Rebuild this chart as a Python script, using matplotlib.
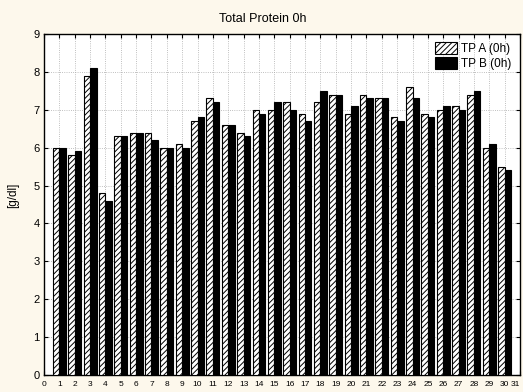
import matplotlib
matplotlib.use("Agg")
import matplotlib.pyplot as plt
import numpy as np

plt.rcParams['font.family'] = ['Liberation Sans', 'DejaVu Sans']
plt.rcParams['hatch.linewidth'] = 0.7

title = "Total Protein 0h"
ylabel = "[g/dl]"
series_names = ["TP A (0h)", "TP B (0h)"]
cases = list(range(1, 31))
tp_a = [6.0, 5.8, 7.9, 4.8, 6.3, 6.4, 6.4, 6.0, 6.1, 6.7,
        7.3, 6.6, 6.4, 7.0, 7.0, 7.2, 6.9, 7.2, 7.4, 6.9,
        7.4, 7.3, 6.8, 7.6, 6.9, 7.0, 7.1, 7.4, 6.0, 5.5]
tp_b = [6.0, 5.9, 8.1, 4.6, 6.3, 6.4, 6.2, 6.0, 6.0, 6.8,
        7.2, 6.6, 6.3, 6.9, 7.2, 7.0, 6.7, 7.5, 7.4, 7.1,
        7.3, 7.3, 6.7, 7.3, 6.8, 7.1, 7.0, 7.5, 6.1, 5.4]
xticks = list(range(0, 32))
yticks = list(range(0, 10))

fig = plt.figure(figsize=(5.23, 3.92), dpi=100)
fig.patch.set_facecolor('#FDF8EC')
ax = fig.add_axes([44/523, 1-375/392, (520-44)/523, (375-34)/392])
ax.set_facecolor('white')

x = np.array(cases)
w = 0.42
ax.bar(x - w/2, tp_a, width=w, color='white', edgecolor='black', hatch='//////',
       linewidth=0.8, label=series_names[0], zorder=3)
ax.bar(x + w/2, tp_b, width=w, color='black', edgecolor='black',
       linewidth=0.8, label=series_names[1], zorder=3)

ax.set_xlim(0, 31)
ax.set_ylim(0, 9)
ax.set_xticks(xticks)
ax.set_yticks(yticks)
ax.tick_params(axis='x', labelsize=6, direction='in', top=True, length=3, pad=4)
ax.tick_params(axis='y', labelsize=8, direction='in', right=True, length=3, pad=3)
ax.get_xticklabels()[-1].set_horizontalalignment('right')
ax.grid(True, color='#AAAAAA', linestyle=':', linewidth=0.6, zorder=0)
for s in ax.spines.values():
    s.set_linewidth(1.0)

fig.text(263/523, 1-19/392, title, fontsize=9, ha='center', va='center')
fig.text(13/523, 1-195/392, ylabel, fontsize=8.5, rotation=90, ha='center', va='center')

leg = ax.legend(loc='upper right', fontsize=8.5, frameon=False, handlelength=1.8,
                handleheight=1.1, handletextpad=0.4, labelspacing=0.2,
                borderaxespad=0.3, bbox_to_anchor=(1.0, 1.0))

fig.savefig('out.png', dpi=100, facecolor=fig.get_facecolor())
